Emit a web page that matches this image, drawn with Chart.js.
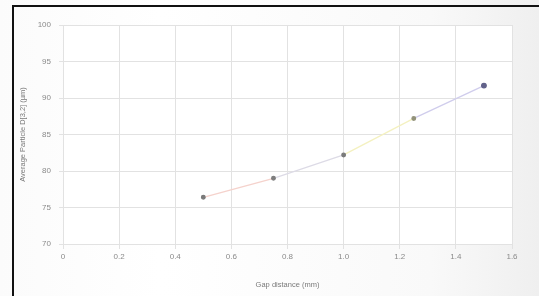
<!DOCTYPE html>
<html>
<head>
<meta charset="utf-8">
<script src="https://cdn.jsdelivr.net/npm/chart.js@4/dist/chart.umd.min.js"></script>
<style>
  html, body { margin: 0; padding: 0; }
  body {
    width: 539px; height: 296px; overflow: hidden; position: relative;
    background: linear-gradient(to right, #fbfbfb 0%, #ffffff 30%, #f9f9f9 80%, #efefef 100%);
  }
  #frame {
    position: absolute; left: 12px; top: 5px; width: 600px; height: 400px;
    border-left: 2px solid #111; border-top: 2px solid #111;
  }
  #wrap { position: absolute; left: 0; top: 0; width: 539px; height: 296px; }
</style>
</head>
<body>
<div id="frame"></div>
<div id="wrap"><canvas id="chart"></canvas></div>
<script>
// Gap distance (mm) vs average particle diameter
const gapDistance = [0.5, 0.75, 1.0, 1.25, 1.5];
const particleSize = [76.4, 79.0, 82.2, 87.2, 91.7];
const segmentColors = ['#f5d2cc', '#dddbe6', '#f4f1c0', '#d0cdec'];
const pointColors = ['#7a7a7a', '#7e7e7e', '#7a7a7a', '#92927a', '#62628a'];

const tickFont = { family: 'Liberation Sans', size: 8 };
const titleFont = { family: 'Liberation Sans', size: 7.5 };

const plotBg = {
  id: 'plotBg',
  beforeDraw(chart) {
    const { ctx, chartArea: a } = chart;
    ctx.save();
    ctx.fillStyle = '#ffffff';
    ctx.fillRect(a.left, a.top, a.right - a.left, a.bottom - a.top);
    ctx.restore();
  }
};

new Chart(document.getElementById('chart'), {
  type: 'scatter',
  data: {
    datasets: [{
      data: gapDistance.map((x, i) => ({ x, y: particleSize[i] })),
      showLine: true,
      borderWidth: 1.3,
      segment: { borderColor: c => segmentColors[c.p0DataIndex] },
      pointRadius: [1.8, 1.8, 1.8, 1.8, 2.3],
      pointBackgroundColor: pointColors,
      pointBorderColor: pointColors,
      borderColor: '#d0d0d0'
    }]
  },
  options: {
    responsive: true,
    maintainAspectRatio: false,
    animation: false,
    layout: { padding: { left: 14, right: 27, top: 25, bottom: 5 } },
    plugins: { legend: { display: false }, tooltip: { enabled: false } },
    scales: {
      x: {
        type: 'linear', min: 0, max: 1.6,
        afterFit: s => { s.height = 47; },
        ticks: { stepSize: 0.2, color: '#8a8a8a', font: tickFont, padding: 3 },
        grid: { color: '#e2e2e2', tickLength: 5 },
        border: { color: '#e2e2e2' },
        title: { display: true, text: 'Gap distance (mm)', color: '#7a7a7a', font: titleFont, padding: { top: 9, bottom: 2 } }
      },
      y: {
        min: 70, max: 100,
        afterFit: s => { s.width = 49; },
        ticks: { stepSize: 5, color: '#8a8a8a', font: tickFont, padding: 8 },
        grid: { color: '#e2e2e2', tickLength: 4 },
        border: { color: '#e2e2e2' },
        title: { display: true, text: 'Average Particle D[3,2] (µm)', color: '#7a7a7a', font: titleFont, padding: { top: 4, bottom: 2 } }
      }
    }
  },
  plugins: [plotBg]
});
</script>
</body>
</html>
